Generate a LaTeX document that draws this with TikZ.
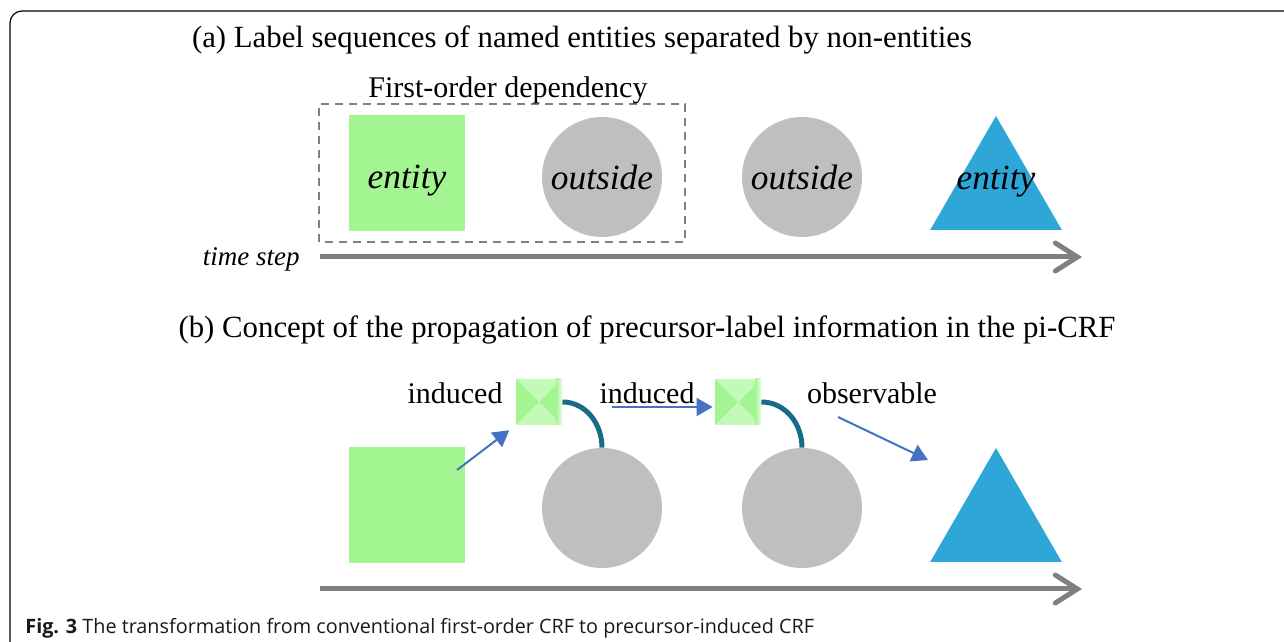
\documentclass[tikz,border=0pt]{standalone}
\usepackage{fontspec}
\setmainfont{Liberation Serif}
\newfontfamily\capfont{Open Sans}
\usetikzlibrary{arrows.meta, shapes.geometric, positioning}

\definecolor{entgreen}{RGB}{162,245,144}
\definecolor{precgreen}{RGB}{196,250,184}
\definecolor{entblue}{RGB}{46,166,215}
\definecolor{outgray}{RGB}{191,191,191}
\definecolor{axisgray}{RGB}{128,128,128}
\definecolor{infoblue}{RGB}{68,114,196}
\definecolor{linkteal}{RGB}{24,108,136}

\tikzset{
    heading/.style={font=\fontsize{15.4}{18}\selectfont},
    note/.style={font=\fontsize{15}{18}\selectfont},
    shapetext/.style={font=\itshape\fontsize{17.7}{20}\selectfont, text depth=0pt},
    entbox/.style={fill=entgreen, minimum size=58pt, inner sep=0pt, shapetext},
    outcirc/.style={circle, fill=outgray, minimum size=60pt, inner sep=0pt, shapetext},
    enttri/.style={regular polygon, regular polygon sides=3, fill=entblue,
        minimum size=76pt, inner sep=0pt},
    precbox/.style={minimum size=23pt, inner sep=0pt, fill=entgreen,
        path picture={
            \fill[precgreen] (path picture bounding box.north west) -- (path picture bounding box.north east)
                -- (path picture bounding box.center) -- cycle;
            \fill[precgreen] (path picture bounding box.south west) -- (path picture bounding box.south east)
                -- (path picture bounding box.center) -- cycle;
            \shade[left color=entgreen, right color=white!75!entgreen]
                ([xshift=-3pt]path picture bounding box.north east) rectangle (path picture bounding box.south east);
        }},
    depline/.style={draw=axisgray, line width=0.75pt, dash pattern=on 4pt off 3pt},
    timeaxis/.style={draw=axisgray, line width=2.5pt,
        -{Straight Barb[length=11pt, width=14pt, line cap=round]}},
    infoarrow/.style={draw=infoblue, line width=1pt, -{Triangle[length=8pt, width=9pt]}},
    linkarc/.style={draw=linkteal, line width=2.5pt},
}

\begin{document}
\begin{tikzpicture}[x=0.5pt, y=0.5pt]
    \useasboundingbox (0,0) rectangle (1284,642);

    % outer frame of the figure
    \draw[line width=0.6pt, rounded corners=6pt] (10,-4) -- (10,631) -- (1290,631);

    % (a) first-order labelling
    \node[heading] (titlea) at (582,602) {(a) Label sequences of named entities separated by non-entities};
    \draw[depline] (319,400) rectangle (685,538);
    \node[note] (dep) at (508,552) {First-order dependency};

    \node[entbox, label={[shapetext, yshift=-2pt]center:entity}] (e1) at (407,469) {};
    \node[outcirc] (o1) at (602,465) {outside};
    \node[outcirc] (o2) at (802,465) {outside};
    \node[enttri, label={[shapetext, yshift=7pt]center:entity}] (e2) at (996,450) {};

    \coordinate (ta0) at (320,385);
    \coordinate (ta1) at (1082,385);
    \node[shapetext, font=\itshape\fontsize{13.5}{16}\selectfont, inner sep=0pt, left=10pt of ta0] (ts) {time step};
    \draw[timeaxis] (ta0) -- (ta1);

    % (b) precursor-induced labelling
    \node[heading] (titleb) at (647,312) {(b) Concept of the propagation of precursor-label information in the pi-CRF};

    \node[entbox] (e3) at (407,137) {};
    \node[outcirc] (o3) at (602,134) {};
    \node[outcirc] (o4) at (802,134) {};
    \node[enttri] (e4) at (996,118) {};

    \node[precbox] (p1) at (539,240) {};
    \node[precbox] (p2) at (738,240) {};
    \node[note] (ind1) at (455,249) {induced};
    \node[note] (ind2) at (647,249) {induced};
    \node[note] (obs) at (872,249) {observable};

    \draw[linkarc] (p1.east) to[out=0, in=90] (o3.north);
    \draw[linkarc] (p2.east) to[out=0, in=90] (o4.north);

    \coordinate (a1) at (457,172);
    \coordinate (a2) at (612,235);
    \coordinate (a3) at (838,225);
    \coordinate (a3e) at (928,182);
    \draw[infoarrow, shorten >=4pt] (a1) -- (p1.south west);
    \draw[infoarrow, shorten >=1pt] (a2) -- (a2 -| p2.west);
    \draw[infoarrow] (a3) -- (a3e);

    \coordinate (tb0) at (320,53);
    \coordinate (tb1) at (1082,53);
    \draw[timeaxis] (tb0) -- (tb1);

    \node[anchor=base west, inner sep=0pt, font=\capfont\fontsize{9.9}{12}\selectfont, text=black!90] (cap) at (25,9)
        {\textbf{Fig. 3} The transformation from conventional first-order CRF to precursor-induced CRF};
\end{tikzpicture}
\end{document}
